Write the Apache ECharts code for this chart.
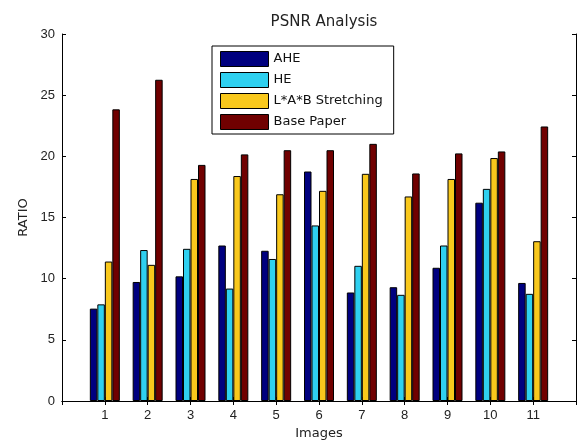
<!DOCTYPE html>
<html>
<head>
<meta charset="utf-8">
<script src="https://cdn.jsdelivr.net/npm/echarts@6/dist/echarts.min.js"></script>
<style>html,body{margin:0;padding:0;background:#fff;}#c{width:579px;height:445px;}</style>
</head>
<body>
<div id="c"></div>
<script>
var categories = ['1','2','3','4','5','6','7','8','9','10','11'];
var seriesNames = ['AHE','HE','L*A*B Stretching','Base Paper'];
var ahe  = [7.55, 9.73, 10.19, 12.71, 12.28, 18.76, 8.87, 9.30, 10.89, 16.21, 9.65];
var he   = [7.90, 12.34, 12.44, 9.19, 11.61, 14.35, 11.05, 8.68, 12.71, 17.34, 8.76];
var lab  = [11.40, 11.13, 18.15, 18.39, 16.90, 17.18, 18.57, 16.72, 18.15, 19.86, 13.06];
var base = [23.84, 26.26, 19.30, 20.16, 20.50, 20.50, 21.02, 18.60, 20.24, 20.40, 22.44];
var colors = ['#00007f', '#2fd0f0', '#f9c81c', '#700000'];
var yTicks = [0, 5, 10, 15, 20, 25, 30];

// pad axis with an empty slot on each side (axis runs 0..12)
var axisCats = [''].concat(categories).concat(['']);
function pad(a) { return [null].concat(a).concat([null]); }
var values = [ahe, he, lab, base];

var font = 'DejaVu Sans, sans-serif';
var tickFont = 'Liberation Sans, Arial, sans-serif';
var chart = echarts.init(document.getElementById('c'), null, {renderer: 'canvas'});
var axisLineStyle = {color: '#000', width: 1};
var option = {
  animation: false,
  backgroundColor: '#fff',
  title: {
    text: 'PSNR Analysis', left: 319, top: 10, textAlign: 'center',
    textStyle: {fontFamily: font, fontSize: 15, fontWeight: 'normal', color: '#222'}
  },
  legend: {
    orient: 'vertical', left: 212, top: 46,
    data: seriesNames,
    icon: 'rect',
    itemWidth: 48, itemHeight: 15, itemGap: 5,
    padding: [5, 11, 4, 8],
    borderColor: '#000', borderWidth: 1, backgroundColor: '#fff',
    textStyle: {fontFamily: font, fontSize: 13, color: '#111'},
    itemStyle: {borderColor: '#000', borderWidth: 1}
  },
  grid: {left: 62, right: 3, top: 34, bottom: 39, containLabel: false},
  xAxis: [{
    type: 'category', data: axisCats, boundaryGap: false, position: 'bottom',
    name: 'Images', nameLocation: 'middle', nameGap: 26,
    nameTextStyle: {fontFamily: font, fontSize: 13, color: '#222'},
    axisLine: {lineStyle: axisLineStyle},
    axisTick: {inside: true, length: 4, lineStyle: axisLineStyle, interval: 0},
    axisLabel: {fontFamily: tickFont, fontSize: 13, color: '#222', margin: 8, interval: 0},
    splitLine: {show: false}
  }, {
    type: 'category', data: axisCats, boundaryGap: false, position: 'top',
    axisLine: {lineStyle: axisLineStyle},
    axisTick: {inside: true, length: 4, lineStyle: axisLineStyle, interval: 0},
    axisLabel: {show: false}, splitLine: {show: false}
  }],
  yAxis: [{
    type: 'value', min: 0, max: 30, interval: 5, position: 'left',
    name: 'RATIO', nameLocation: 'middle', nameGap: 32, nameRotate: 90,
    nameTextStyle: {fontFamily: font, fontSize: 13, color: '#222'},
    axisLine: {show: true, lineStyle: axisLineStyle},
    axisTick: {show: true, inside: true, length: 4, lineStyle: axisLineStyle},
    axisLabel: {fontFamily: tickFont, fontSize: 13, color: '#222', margin: 7,
      formatter: function (v) { return yTicks.indexOf(v) >= 0 ? String(v) : ''; }},
    splitLine: {show: false}
  }, {
    type: 'value', min: 0, max: 30, interval: 5, position: 'right',
    axisLine: {show: true, lineStyle: axisLineStyle},
    axisTick: {show: true, inside: true, length: 4, lineStyle: axisLineStyle},
    axisLabel: {show: false}, splitLine: {show: false}
  }],
  series: seriesNames.map(function (n, i) {
    return {
      name: n, type: 'bar', xAxisIndex: 0, yAxisIndex: 0,
      data: pad(values[i]),
      barWidth: 7.5, barGap: '0%',
      itemStyle: {color: colors[i], borderColor: '#000', borderWidth: 1}
    };
  })
};
chart.setOption(option);
</script>
</body>
</html>
